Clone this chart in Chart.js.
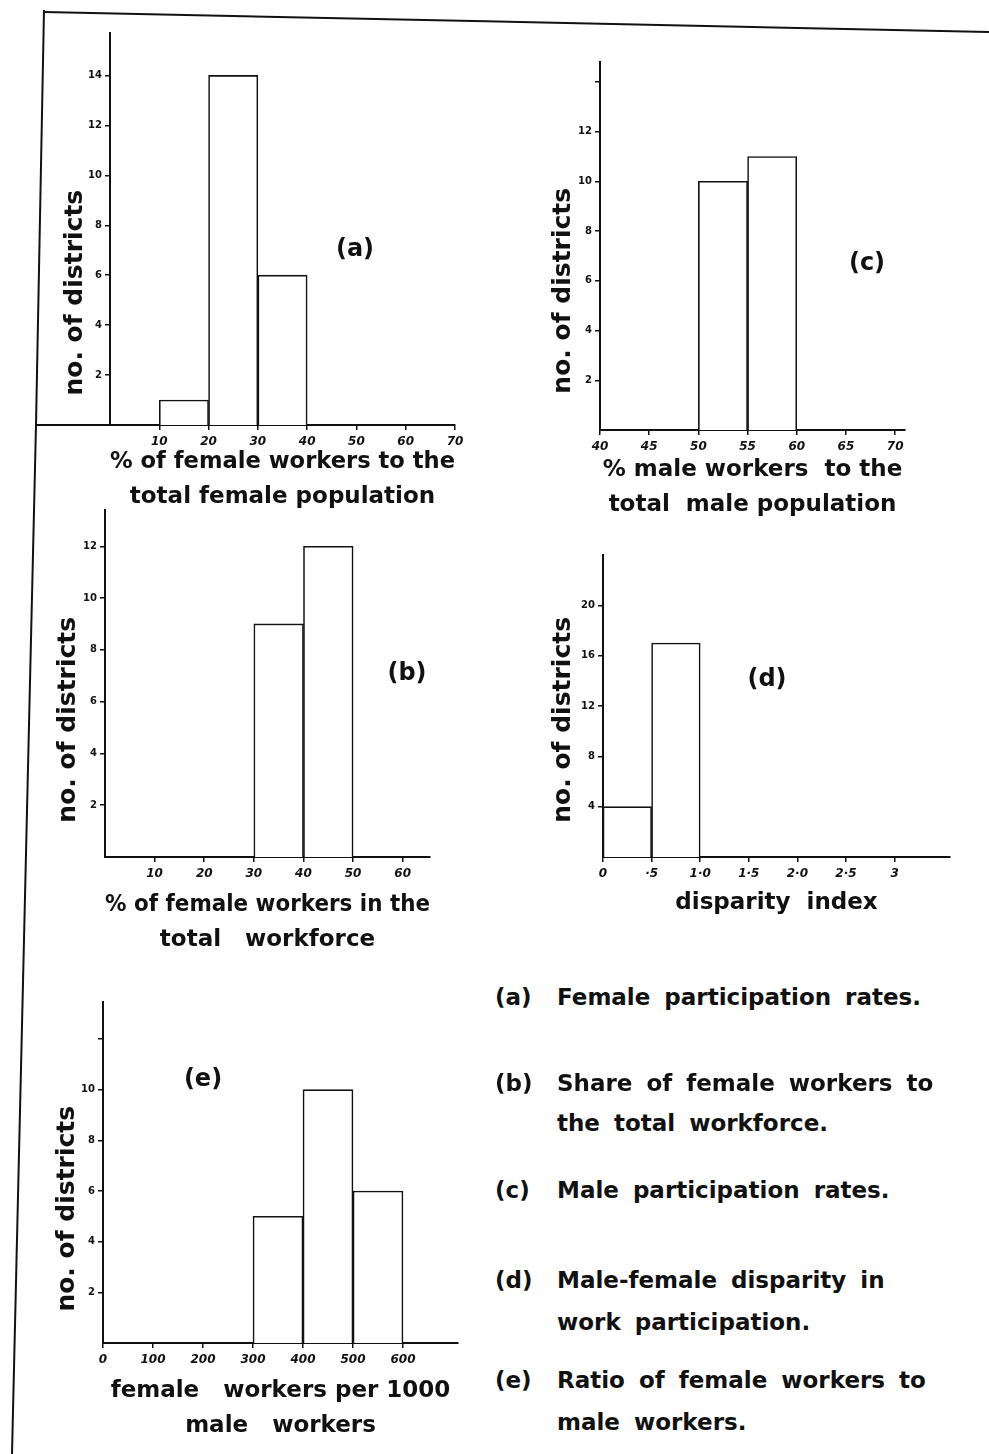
<!DOCTYPE html>
<html>
<head>
<meta charset="utf-8">
<script src="https://cdn.jsdelivr.net/npm/chart.js@4.4.1/dist/chart.umd.min.js"></script>
<style>
  body { margin: 0; background: #fff; }
  #page { position: relative; width: 989px; height: 1454px; overflow: hidden;
          font-family: "DejaVu Sans", sans-serif; color: #111; }
  #page canvas { position: absolute; }
  .tag { position: absolute; font-size: 24px; font-weight: bold; transform: translate(-50%, -50%); }
  .note { position: absolute; font-size: 23px; font-weight: bold; line-height: 1; word-spacing: 6px;
          white-space: nowrap; transform: translateY(-50%); }
</style>
</head>
<body>
<div id="page">
  <svg width="989" height="1454" style="position:absolute;left:0;top:0">
    <g stroke="#111" stroke-width="2" fill="none">
      <line x1="44" y1="12" x2="989" y2="32"/>
      <polyline points="44,10 36,425 12,1454"/>
      <line x1="36" y1="425" x2="110" y2="425"/>
    </g>
  </svg>

  <canvas id="chartA"></canvas>
  <canvas id="chartB"></canvas>
  <canvas id="chartC"></canvas>
  <canvas id="chartD"></canvas>
  <canvas id="chartE"></canvas>

  <div class="tag" style="left:355px;top:248px">(a)</div>
  <div class="tag" style="left:867px;top:262px">(c)</div>
  <div class="tag" style="left:407px;top:672px">(b)</div>
  <div class="tag" style="left:767px;top:678px">(d)</div>
  <div class="tag" style="left:203px;top:1078px">(e)</div>

  <div class="note" style="left:495px;top:997px">(a)</div>
  <div class="note" style="left:557px;top:997px">Female participation rates.</div>
  <div class="note" style="left:495px;top:1083px">(b)</div>
  <div class="note" style="left:557px;top:1083px">Share of female workers to</div>
  <div class="note" style="left:557px;top:1123px">the total workforce.</div>
  <div class="note" style="left:495px;top:1190px">(c)</div>
  <div class="note" style="left:557px;top:1190px">Male participation rates.</div>
  <div class="note" style="left:495px;top:1280px">(d)</div>
  <div class="note" style="left:557px;top:1280px">Male-female disparity in</div>
  <div class="note" style="left:557px;top:1322px">work participation.</div>
  <div class="note" style="left:495px;top:1380px">(e)</div>
  <div class="note" style="left:557px;top:1380px">Ratio of female workers to</div>
  <div class="note" style="left:557px;top:1422px">male workers.</div>
</div>

<script>
const ink = '#111';

// (a) % of female workers to the total female population
const binsA = [15, 25, 35];
const countsA = [1, 14, 6];
const xTicksA = [10, 20, 30, 40, 50, 60, 70];
const xLabelsA = ['10', '20', '30', '40', '50', '60', '70'];
const yTicksA = [2, 4, 6, 8, 10, 12, 14];
const yLabelsA = ['2', '4', '6', '8', '10', '12', '14'];

// (b) % of female workers in the total workforce
const binsB = [35, 45];
const countsB = [9, 12];
const xTicksB = [10, 20, 30, 40, 50, 60];
const xLabelsB = ['10', '20', '30', '40', '50', '60'];
const yTicksB = [2, 4, 6, 8, 10, 12];
const yLabelsB = ['2', '4', '6', '8', '10', '12'];

// (c) % male workers to the total male population
const binsC = [52.5, 57.5];
const countsC = [10, 11];
const xTicksC = [40, 45, 50, 55, 60, 65, 70];
const xLabelsC = ['40', '45', '50', '55', '60', '65', '70'];
const yTicksC = [2, 4, 6, 8, 10, 12, 14];
const yLabelsC = ['2', '4', '6', '8', '10', '12', ''];

// (d) disparity index
const binsD = [0.25, 0.75];
const countsD = [4, 17];
const xTicksD = [0, 0.5, 1, 1.5, 2, 2.5, 3];
const xLabelsD = ['0', '·5', '1·0', '1·5', '2·0', '2·5', '3'];
const yTicksD = [4, 8, 12, 16, 20];
const yLabelsD = ['4', '8', '12', '16', '20'];

// (e) female workers per 1000 male workers
const binsE = [350, 450, 550];
const countsE = [5, 10, 6];
const xTicksE = [0, 100, 200, 300, 400, 500, 600];
const xLabelsE = ['0', '100', '200', '300', '400', '500', '600'];
const yTicksE = [2, 4, 6, 8, 10, 12];
const yLabelsE = ['2', '4', '6', '8', '10', ''];

const yAxisTitle = 'no. of districts';

// rotated y title, placed against the y scale
const yTitlePlugin = {
  id: 'yTitle',
  afterDraw(chart, args, opts) {
    const { ctx, chartArea, scales } = chart;
    ctx.save();
    ctx.font = 'bold 25px "DejaVu Sans"';
    ctx.fillStyle = ink;
    ctx.textAlign = 'center';
    ctx.textBaseline = 'middle';
    ctx.translate(chartArea.left - opts.offset, scales.y.getPixelForValue(opts.at));
    ctx.rotate(-Math.PI / 2);
    ctx.fillText(opts.text, 0, 0);
    ctx.restore();
  }
};

const YW = 70, XH = 100;

function histogram(id, box, d) {
  const cv = document.getElementById(id);
  const left = box.left - YW, top = box.top - 10;
  cv.width = box.right + 20 - left;
  cv.height = box.bottom + XH - top;
  cv.style.left = left + 'px';
  cv.style.top = top + 'px';

  new Chart(cv, {
    type: 'bar',
    data: {
      datasets: [{
        data: d.bins.map((b, i) => ({ x: b, y: d.counts[i] })),
        backgroundColor: '#fff',
        borderColor: ink,
        borderWidth: 1.6,
        barPercentage: 1,
        categoryPercentage: 1
      }]
    },
    options: {
      responsive: false,
      animation: false,
      layout: { padding: { left: 0, top: 10, right: 20, bottom: 0 } },
      plugins: {
        legend: { display: false },
        tooltip: { enabled: false },
        yTitle: { text: yAxisTitle, offset: box.titleOffset, at: box.titleAt }
      },
      scales: {
        x: {
          type: 'linear',
          min: box.xMin,
          max: box.xMax,
          offset: false,
          afterFit: s => { s.height = XH; },
          afterBuildTicks: s => { s.ticks = d.xTicks.map(v => ({ value: v })); },
          ticks: {
            autoSkip: false, maxRotation: 0, padding: 5, color: ink,
            font: { family: 'DejaVu Sans', size: 12, style: 'italic', weight: 'bold' },
            callback: (v, i) => d.xLabels[i]
          },
          grid: { offset: false, drawOnChartArea: false, tickLength: 5, color: ink, lineWidth: 1.5 },
          border: { color: ink, width: 2 },
          title: {
            display: true, text: d.xTitle, color: ink,
            font: { family: 'DejaVu Sans', size: 23, weight: 'bold', lineHeight: 1.5 },
            padding: { top: 0, bottom: box.titlePad }
          }
        },
        y: {
          min: 0,
          max: box.yMax,
          afterFit: s => { s.width = YW; },
          afterBuildTicks: s => { s.ticks = d.yTicks.map(v => ({ value: v })); },
          ticks: {
            autoSkip: false, padding: 3, color: ink,
            font: { family: 'DejaVu Sans', size: 10, weight: 'bold' },
            callback: (v, i) => d.yLabels[i]
          },
          grid: { drawOnChartArea: false, tickLength: 5, color: ink, lineWidth: 1.5 },
          border: { color: ink, width: 2 }
        }
      }
    },
    plugins: [yTitlePlugin]
  });
}

histogram('chartA',
  { left: 110, top: 33, right: 455, bottom: 425, xMin: 0, xMax: 70, yMax: 15.7,
    titleOffset: 35, titleAt: 5.3, titlePad: 11 },
  { bins: binsA, counts: countsA, xTicks: xTicksA, xLabels: xLabelsA, yTicks: yTicksA, yLabels: yLabelsA,
    xTitle: ['% of female workers to the', 'total female population'] });

histogram('chartC',
  { left: 600, top: 62, right: 905, bottom: 430, xMin: 40, xMax: 71, yMax: 14.8,
    titleOffset: 37, titleAt: 5.6, titlePad: 8 },
  { bins: binsC, counts: countsC, xTicks: xTicksC, xLabels: xLabelsC, yTicks: yTicksC, yLabels: yLabelsC,
    xTitle: ['% male workers  to the', 'total  male population'] });

histogram('chartB',
  { left: 105, top: 510, right: 430, bottom: 857, xMin: 0, xMax: 65.5, yMax: 13.4,
    titleOffset: 37, titleAt: 5.3, titlePad: 0 },
  { bins: binsB, counts: countsB, xTicks: xTicksB, xLabels: xLabelsB, yTicks: yTicksB, yLabels: yLabelsB,
    xTitle: ['% of female workers in the', 'total   workforce'] });

histogram('chartD',
  { left: 603, top: 555, right: 950, bottom: 857, xMin: 0, xMax: 3.57, yMax: 24,
    titleOffset: 40, titleAt: 10.9, titlePad: 37 },
  { bins: binsD, counts: countsD, xTicks: xTicksD, xLabels: xLabelsD, yTicks: yTicksD, yLabels: yLabelsD,
    xTitle: 'disparity  index' });

histogram('chartE',
  { left: 103, top: 1002, right: 458, bottom: 1343, xMin: 0, xMax: 710, yMax: 13.46,
    titleOffset: 36, titleAt: 5.3, titlePad: 0 },
  { bins: binsE, counts: countsE, xTicks: xTicksE, xLabels: xLabelsE, yTicks: yTicksE, yLabels: yLabelsE,
    xTitle: ['female   workers per 1000', 'male   workers'] });
</script>
</body>
</html>
